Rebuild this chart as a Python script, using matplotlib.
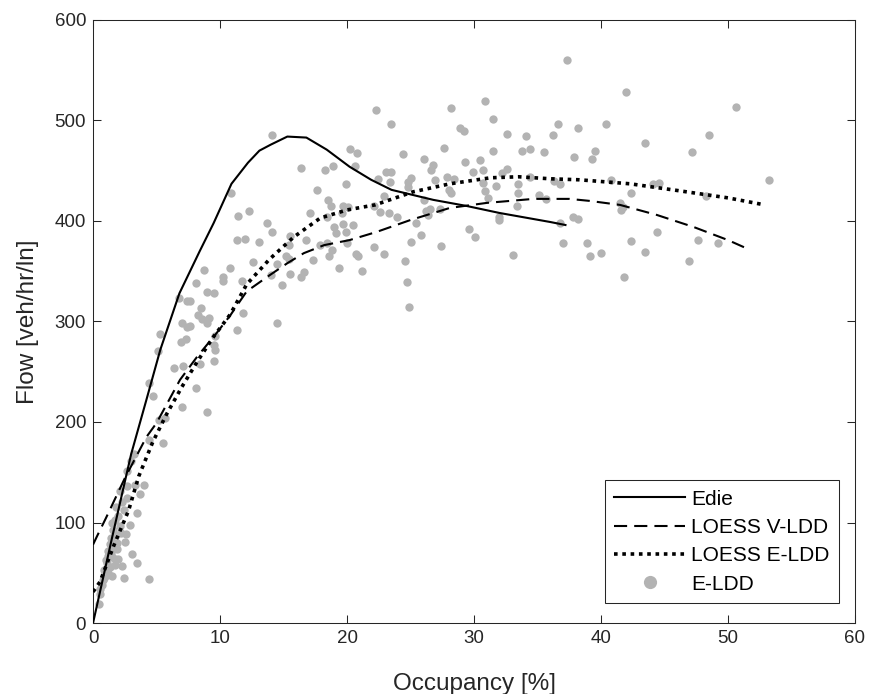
import matplotlib
matplotlib.use("Agg")
import matplotlib.pyplot as plt

plt.rcParams['font.family'] = ['Liberation Sans', 'DejaVu Sans']

# Edie curve
edie_x = [0, 1.5, 3, 4.2, 5.3, 6.8, 8.4, 9.5, 10.9, 12.2, 13.1, 14.0, 15.3, 16.8, 18.4, 20.2, 21.9, 23.5, 26.8, 29.4, 32.0, 36.0, 37.2]
edie_y = [0, 85, 168, 222, 272, 328, 370, 398, 437, 458, 470, 476, 484, 483, 471, 454, 441, 431, 421, 415, 408, 399, 396]

# LOESS V-LDD
vldd_x = [0, 0.3, 1, 2.5, 4.2, 5.0, 6.85, 8.2, 9.7, 10.8, 12.1, 13.9, 15.3, 16.6, 18.2, 20.2, 22.3, 25.0, 28.1, 31.0, 34.7, 37.5, 39.1, 41.5, 44.4, 47.3, 50.0, 51.6]
vldd_y = [78, 86, 104, 144, 185, 199, 242, 265, 288, 306, 330, 346, 358, 368, 376, 381, 389, 401, 413, 418, 422, 422, 420, 416, 406, 394, 381, 372]

# LOESS E-LDD
eldd_x = [0, 0.55, 1.6, 2.8, 3.6, 4.7, 5.8, 7.0, 8.2, 9.5, 10.8, 12.1, 13.9, 15.8, 17.9, 20.0, 22.2, 25.2, 28.1, 31.3, 33.5, 36.0, 38.3, 42.3, 46.2, 50.0, 52.9]
eldd_y = [31, 41, 76, 112, 146, 180, 208, 235, 260, 285, 307, 337, 362, 384, 403, 411, 416, 429, 437, 443, 444, 442, 441, 437, 430, 423, 416]

# E-LDD scatter (occupancy %, flow veh/hr/ln)
pts_occ = [
    22.3, 14.1, 20.2, 20.8, 16.4, 18.3, 18.9, 20.6, 22.4, 19.9, 17.6, 10.9, 18.5, 18.7, 19.7, 20.1, 22.1,
    12.3, 11.4, 17.1, 18.4, 19.6, 13.7, 19.0, 19.7, 20.5, 14.1, 19.1, 19.9, 11.3, 12.0, 13.1, 15.5, 16.8,
    17.9, 18.4, 18.8, 18.6, 20.7, 20.9, 22.1, 15.4, 15.2, 15.4, 14.5, 17.3, 12.6, 10.8, 8.7, 10.2, 10.2,
    11.7, 14.0, 15.5, 16.6, 16.4, 19.4, 21.2, 14.9, 8.1, 9.0, 9.5, 7.4, 7.6, 8.5, 8.3, 8.6, 9.1, 9.0,
    11.8, 7.0, 7.4, 14.5, 11.3, 7.3, 9.6, 9.5, 6.8, 7.6, 5.3, 6.9, 5.1, 9.6, 6.4, 7.1, 8.4, 9.5, 4.4,
    4.7, 8.1, 7.0, 9.0, 5.2, 5.7, 4.4, 5.5, 3.2, 3.0, 2.7, 3.3, 4.0, 2.7, 2.1, 2.7, 3.7, 2.4, 3.5, 1.7,
    2.1, 2.9, 2.6, 1.6, 2.5, 1.3, 1.6, 1.9, 3.1, 1.2, 1.5, 1.7, 3.5, 2.3, 1.1, 1.3, 0.9, 1.2, 1.5, 2.4,
    4.4, 0.8, 0.7, 0.55, 0.55, 0.5, 1.4, 1.8, 1.2, 1.0, 1.9, 2.2, 1.4, 1.7, 2.0, 1.1, 0.9, 2.0, 1.5,
    1.8, 2.3,
    30.9, 28.2, 31.5, 23.5, 28.9, 29.2, 32.6, 34.1, 27.6, 31.5, 33.8, 34.4, 35.5, 24.4, 26.1, 29.3, 30.5,
    26.8, 26.6, 30.7, 29.9, 32.2, 32.6, 23.1, 23.5, 25.0, 24.8, 24.8, 23.4, 26.9, 27.9, 28.4, 34.4, 30.7,
    31.7, 33.5, 28.0, 28.2, 30.9, 31.1, 33.5, 35.1, 35.7, 22.9, 26.1, 26.2, 26.5, 26.4, 27.3, 22.6, 23.3,
    23.9, 32.0, 32.0, 33.4, 29.6, 30.1, 25.4, 20.0, 25.8, 25.0, 22.9, 24.6, 27.4, 33.1, 24.7, 24.9,
    37.3, 42.0, 36.6, 38.2, 40.4, 48.5, 36.2, 43.5, 39.5, 39.3, 37.9, 47.2, 36.3, 36.8, 40.8, 44.1, 44.6,
    42.4, 41.5, 41.7, 41.6, 48.3, 36.8, 37.8, 38.2, 44.4, 42.4, 37.0, 38.9, 47.6, 49.2, 39.1, 40.0, 43.5,
    46.9, 41.8, 50.6, 53.2,
]
pts_flow = [
    510, 486, 472, 468, 453, 451, 455, 455, 442, 437, 431, 428, 421, 415, 415, 414, 415,
    410, 405, 408, 404, 408, 398, 394, 397, 396, 389, 388, 389, 381, 382, 379, 385, 381,
    376, 378, 371, 365, 367, 365, 374, 376, 365, 362, 357, 361, 359, 353, 351, 344, 340,
    340, 346, 347, 349, 344, 353, 350, 336, 338, 329, 328, 320, 320, 313, 306, 302, 303, 299,
    308, 299, 295, 299, 292, 283, 286, 277, 323, 296, 288, 280, 271, 272, 254, 256, 258, 261, 239,
    226, 234, 215, 210, 202, 204, 182, 179, 168, 161, 151, 137, 137, 136, 131, 124, 128, 112, 109, 102,
    97, 98, 89, 93, 81, 79, 76, 74, 69, 67, 66, 64, 60, 57, 60, 56, 53, 50, 47, 45,
    44, 43, 38, 34, 29, 19, 85, 88, 72, 63, 80, 90, 70, 58, 64, 48, 45, 106, 100,
    115, 120,
    519, 512, 501, 497, 493, 490, 487, 485, 473, 470, 470, 472, 469, 467, 462, 459, 461,
    456, 451, 451, 449, 448, 452, 449, 449, 443, 439, 434, 439, 441, 444, 442, 444, 438,
    435, 437, 431, 428, 430, 423, 428, 426, 422, 425, 421, 410, 412, 406, 412, 409, 408,
    404, 404, 401, 415, 392, 384, 398, 378, 386, 379, 367, 360, 375, 366, 339, 314,
    560, 528, 497, 493, 497, 486, 486, 478, 470, 462, 464, 469, 440, 437, 441, 437, 438,
    428, 418, 414, 411, 425, 398, 404, 402, 389, 380, 378, 378, 381, 378, 365, 368, 369,
    360, 344, 513, 441,
]

axcol = '#262626'
fig = plt.figure(figsize=(8.72, 6.94), dpi=100)
ax = fig.add_axes([0.1067, 0.1023, 0.8738, 0.8689])

ax.plot(edie_x, edie_y, color='black', lw=1.5, label='Edie', zorder=3)
ax.plot(vldd_x, vldd_y, color='black', lw=1.5, dashes=(6.3, 3.4), label='LOESS V-LDD', zorder=3)
ax.plot(eldd_x, eldd_y, color='black', lw=2.6, dashes=(1.0, 1.3), label='LOESS E-LDD', zorder=3)
ax.plot(pts_occ, pts_flow, linestyle='none', marker='o', markersize=6.0,
        markerfacecolor='#b3b3b3', markeredgecolor='none', label='E-LDD', zorder=2)

ax.set_xlim(0, 60)
ax.set_ylim(0, 600)
ax.set_xticks(range(0, 61, 10))
ax.set_yticks(range(0, 601, 100))
ax.tick_params(direction='in', length=5.5, width=0.75, colors=axcol, labelsize=13.5,
               top=True, right=True, pad=5)
for s in ax.spines.values():
    s.set_color(axcol)
    s.set_linewidth(0.75)

ax.set_xlabel('Occupancy [%]', fontsize=17.5, color=axcol, labelpad=19)
ax.set_ylabel('Flow [veh/hr/ln]', fontsize=17.5, color=axcol, labelpad=11)

leg = ax.legend(loc='lower right', bbox_to_anchor=(0.979, 0.033), fontsize=15,
                handlelength=3.4, handletextpad=0.3, borderpad=0.45, borderaxespad=0,
                labelspacing=0.45, fancybox=False, framealpha=1, edgecolor=axcol)
leg.get_frame().set_linewidth(0.75)
leg.legend_handles[3].set_markersize(9.5)

fig.savefig('out.png', dpi=100)
